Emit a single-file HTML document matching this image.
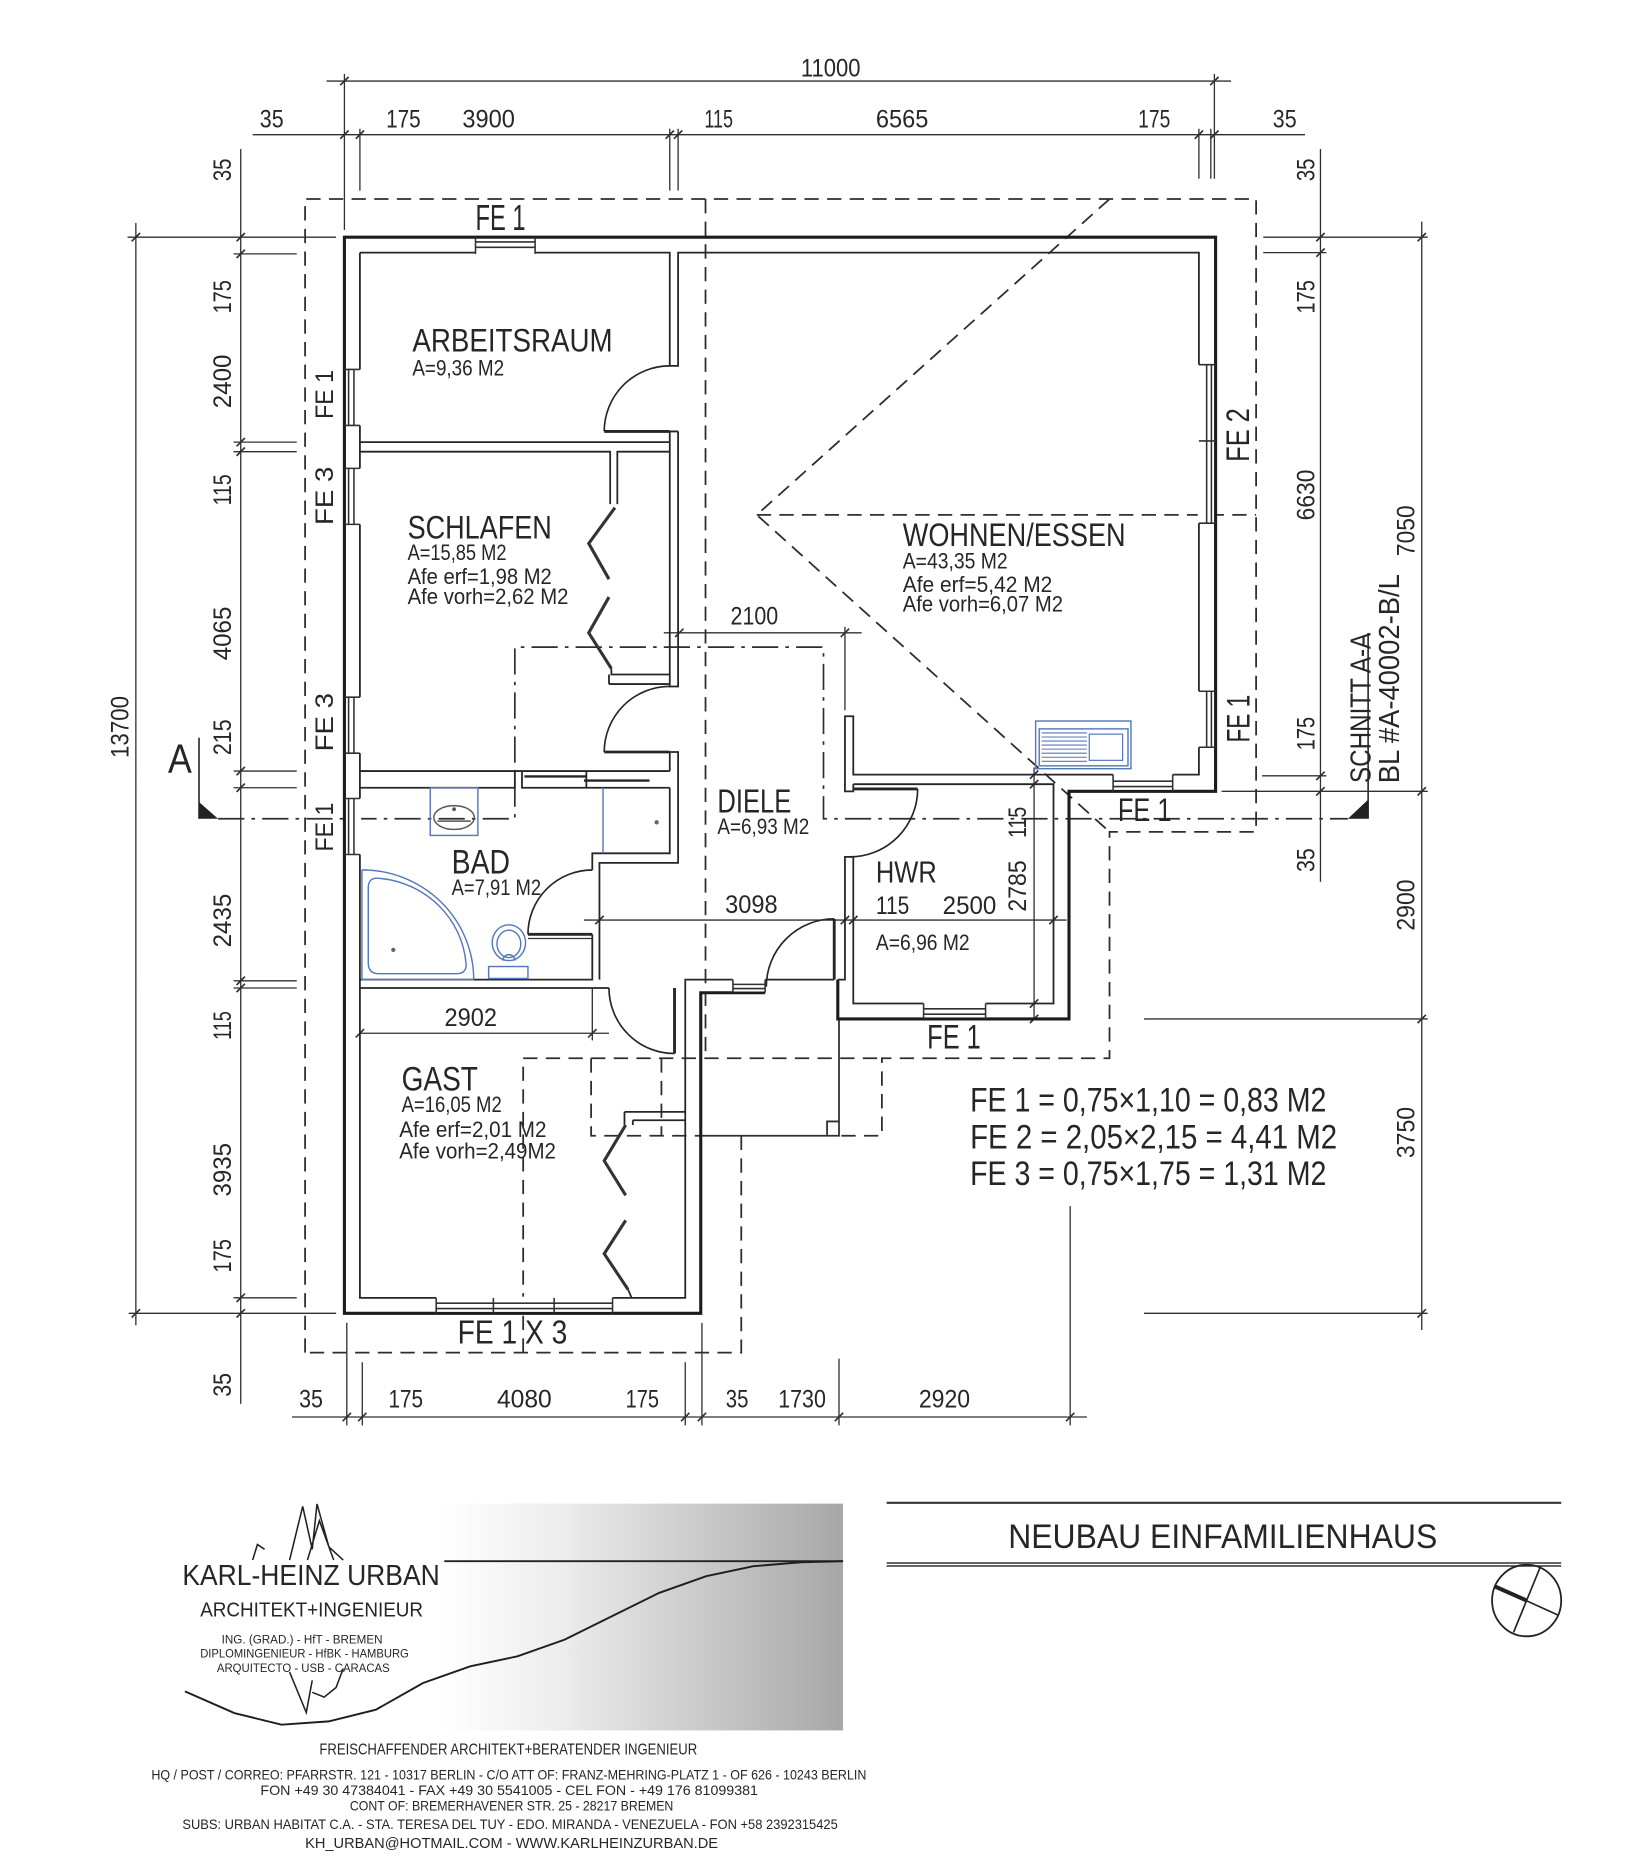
<!DOCTYPE html>
<html><head><meta charset="utf-8">
<style>
html,body{margin:0;padding:0;background:#fff}
svg{display:block}
.o{stroke:#1c1c1c;stroke-width:2.6;fill:none}
.i{stroke:#262626;stroke-width:1.5;fill:none}
.t{stroke:#303030;stroke-width:1.1;fill:none}
.hv{stroke:#262626;stroke-width:2.4;fill:none}
.z{stroke:#333;stroke-width:2.6;fill:none}
.da{stroke:#2e2e2e;stroke-width:1.5;fill:none;stroke-dasharray:12 7}
.dd{stroke:#2e2e2e;stroke-width:1.4;fill:none;stroke-dasharray:22 6 3 6}
.b{stroke:#5577bb;stroke-width:1.2;fill:none}
text{font-family:"Liberation Sans",sans-serif;fill:#262626}
</style></head>
<body>
<svg xmlns="http://www.w3.org/2000/svg" width="1647" height="1870" viewBox="0 0 1382 1569.1" preserveAspectRatio="none">
<defs>
<linearGradient id="g" x1="0" x2="1" y1="0" y2="0">
<stop offset="0" stop-color="#ffffff"/>
<stop offset="0.3" stop-color="#ececec"/>
<stop offset="1" stop-color="#a7a7a7"/>
</linearGradient>
</defs>
<rect x="0" y="0" width="1382" height="1570" fill="#fff"/>

<!-- roof dashed lines -->
<path class="da" d="M256,1135V167H1054V698H931V888H740V953H704 M622,953V1135H256 M439,1135V888H740 M592,167V888 M496,888V953H587 M555,888V953 M931,167L635,432L931,698 M635,432H1054"/>
<path class="t" d="M587,953H704V855 M694,953V941H704" style="stroke-width:1.5"/>

<!-- section line -->
<path class="dd" d="M183,687H432V543H691V687H1131"/>
<path class="t" d="M167,619V687 M1148,531V687" style="stroke-width:1.4"/>
<path d="M167,673L167,687L183,687Z" fill="#222"/>
<path d="M1148,671L1148,687L1131,687Z" fill="#222"/>

<!-- dimension lines -->
<path class="t" d="M274,68H1033 M289,62V193 M1019,62V150 M1016,108V150 M212,113H1095 M302,108V160 M562,108V160 M569,108V160 M1006,108V150"/>
<path class="t" d="M114,187V1112 M202,125V1178 M107,199H282 M196,213H249 M196,371H249 M196,379H249 M196,647H249 M196,661H249 M196,823H249 M196,829H249 M196,1089H249 M108,1102H282"/>
<path class="t" d="M1108,125V740 M1193,186V1116 M1060,199H1198 M1060,212H1113 M1059,651H1113 M1025,664H1198 M960,855H1198 M960,1102H1198"/>
<path class="t" d="M245,1189H912 M291,1110V1196 M304,1143V1196 M575,1143V1196 M589,1110V1196 M704,1140V1196 M898,1012V1196"/>
<path class="t" d="M557,531H723 M709,526V596 M490,772H895 M867.7,644V855 M302,867H511 M497,829V873"/>
<path class="t" style="stroke-width:1.4" d="M285.5,71.5l7,-7 M1015.5,71.5l7,-7 M285.5,116.5l7,-7 M298.5,116.5l7,-7 M558.5,116.5l7,-7 M565.5,116.5l7,-7 M1002.5,116.5l7,-7 M1015.5,116.5l7,-7
M198.5,202.5l7,-7 M198.5,216.5l7,-7 M198.5,374.5l7,-7 M198.5,382.5l7,-7 M198.5,650.5l7,-7 M198.5,664.5l7,-7 M198.5,826.5l7,-7 M198.5,832.5l7,-7 M198.5,1092.5l7,-7 M198.5,1105.5l7,-7
M110.5,202.5l7,-7 M110.5,1105.5l7,-7
M1104.5,202.5l7,-7 M1104.5,215.5l7,-7 M1104.5,654.5l7,-7 M1104.5,667.5l7,-7
M1189.5,202.5l7,-7 M1189.5,667.5l7,-7 M1189.5,858.5l7,-7 M1189.5,1105.5l7,-7
M287.5,1192.5l7,-7 M300.5,1192.5l7,-7 M571.5,1192.5l7,-7 M585.5,1192.5l7,-7 M700.5,1192.5l7,-7 M894.5,1192.5l7,-7
M566.5,534.5l7,-7 M705.5,534.5l7,-7 M499.5,775.5l7,-7 M705.5,775.5l7,-7 M712.5,775.5l7,-7 M880.5,775.5l7,-7 M864.2,653.5l7,-7 M864.2,661.5l7,-7 M864.2,845.5l7,-7 M864.2,858.5l7,-7 M298.5,870.5l7,-7 M493.5,870.5l7,-7"/>

<!-- walls -->
<path class="o" d="M642,833H588V1102H289V199H1020V664H897V855H703V822"/>
<path class="i" d="M302,212H562V307H569V212H1006V650H716V601H709V664H716V658
M716,658H884V842H716V719H709V822H703
M302,212V1089H575V822H615 M642,822H700
M302,371H562 M302,379H512V423 M518,423V379H562
M562,362H569 M562,362V576H569V362
M562,631H569V724H503V822
M562,631V647 M562,661V716H497V730 M497,784V822H302
M302,829H511
M302,647H562 M302,661H432V647 M438,647V661H562 M492,647V661
M513,561V566H562 M511,574H562 M511,566V574
M524,933H575 M531,940H575 M524,933V944 M531,940V944 M527,1082L530,1089"/>
<path class="hv" d="M440,651.5H492 M490,655H545" style="stroke-width:2"/>
<path class="z" d="M516,426L494,456L511,486 M511,501L494,531L513,561 M525,944L507,974L525,1003 M525,1024L507,1052L527,1082"/>

<!-- doors -->
<path class="hv" d="M507,362H562 M507,631H562 M443,784H497 M566,829V884 M700,771V822 M716,662H770"/>
<path class="t" d="M443,787.5H497"/>
<path class="i" style="stroke-width:1.4" d="M562,307A55,55 0 0 0 507,362 M562,576A55,55 0 0 0 507,631 M497,730A54,54 0 0 0 443,784 M511,829A55,55 0 0 0 566,884 M700,771A57,57 0 0 0 643,828 M770,662A57,57 0 0 1 713,719"/>

<!-- windows -->
<g fill="#fff" stroke="none">
<rect x="290.5" y="310" width="12.5" height="47"/><rect x="290.5" y="393" width="12.5" height="47"/>
<rect x="290.5" y="585" width="12.5" height="47"/><rect x="290.5" y="670" width="12.5" height="47"/>
<rect x="1005" y="306" width="13.7" height="133"/><rect x="1005" y="580" width="13.7" height="47"/>
<rect x="399" y="200.5" width="50" height="13.5"/>
<rect x="934" y="649" width="50" height="13.7"/>
<rect x="775" y="841" width="52" height="12.7"/>
<rect x="366" y="1088" width="148" height="12.7"/>
<rect x="615" y="821" width="27" height="11"/>
</g>
<path class="t" style="stroke-width:1.3" d="
M289,310H302 M289,357H302 M292.5,310V357 M297,310V357
M289,393H302 M289,440H302 M292.5,393V440 M297,393V440
M289,585H302 M289,632H302 M292.5,585V632 M297,585V632
M289,670H302 M289,717H302 M292.5,670V717 M297,670V717
M1006,306H1020 M1006,370H1020 M1006,439H1020 M1012.5,306V439 M1016.5,306V439
M1006,580H1020 M1006,627H1020 M1012.5,580V627 M1016.5,580V627
M399,199V213 M449,199V213 M399,203H449 M399,207.5H449
M934,650V664 M984,650V664 M934,655.5H984 M934,660H984
M775,842V855 M827,842V855 M775,846.5H827 M775,851H827
M366,1089V1102 M414,1089V1102 M465,1089V1102 M514,1089V1102 M366,1093.5H514 M366,1098H514
M615,822V833 M642,822V833 M615,826H642 M615,829.5H642"/>

<!-- fixtures -->
<rect class="b" x="361" y="661" width="40" height="40"/>
<ellipse cx="381" cy="686" rx="17" ry="10" fill="none" stroke="#555" stroke-width="1.2"/>
<path d="M367,689H395" stroke="#555" stroke-width="1.2"/>
<circle cx="381" cy="679" r="1.6" fill="#555"/>
<path class="b" d="M506,661V716"/>
<circle cx="551" cy="690" r="1.8" fill="#666"/>
<path class="b" d="M303.7,729.9A93.8,92.1 0 0 1 397.5,822 M303.7,729.9V822H397.5"/>
<path class="b" d="M309,745Q309,736 318,737A80,78 0 0 1 391,808Q392,817 383,817L318,817Q309,817 309,808Z"/>
<circle cx="330" cy="797" r="1.8" fill="#666"/>
<rect class="b" x="410" y="811" width="33" height="10"/>
<ellipse class="b" cx="427" cy="791" rx="14" ry="15"/>
<ellipse class="b" cx="427" cy="792" rx="10" ry="11.5"/>
<path class="b" d="M422,806A5,5 0 0 1 432,806"/>
<rect class="b" x="869" y="605" width="80" height="40"/>
<rect class="b" x="872" y="611.6" width="74.5" height="31"/>
<rect x="914" y="616" width="28" height="22" fill="#fff" stroke="#5577bb" stroke-width="1"/>
<path class="b" style="stroke-width:0.9" d="M874,615H912 M874,618.4H912 M874,621.8H912 M874,625.2H912 M874,628.6H912 M874,632H912 M874,635.4H912 M874,638.8H912"/>

<!-- dimension texts -->
<g font-size="21">
<text x="672" y="64" textLength="50" lengthAdjust="spacingAndGlyphs">11000</text>
<text x="218" y="107" textLength="20" lengthAdjust="spacingAndGlyphs">35</text>
<text x="324" y="107" textLength="29" lengthAdjust="spacingAndGlyphs">175</text>
<text x="388" y="107" textLength="44" lengthAdjust="spacingAndGlyphs">3900</text>
<text x="591" y="107" textLength="24" lengthAdjust="spacingAndGlyphs">115</text>
<text x="735" y="107" textLength="44" lengthAdjust="spacingAndGlyphs">6565</text>
<text x="955" y="107" textLength="27" lengthAdjust="spacingAndGlyphs">175</text>
<text x="1068" y="107" textLength="20" lengthAdjust="spacingAndGlyphs">35</text>
<text x="251" y="1181" textLength="20" lengthAdjust="spacingAndGlyphs">35</text>
<text x="326" y="1181" textLength="29" lengthAdjust="spacingAndGlyphs">175</text>
<text x="417" y="1181" textLength="46" lengthAdjust="spacingAndGlyphs">4080</text>
<text x="525" y="1181" textLength="28" lengthAdjust="spacingAndGlyphs">175</text>
<text x="609" y="1181" textLength="19" lengthAdjust="spacingAndGlyphs">35</text>
<text x="653" y="1181" textLength="40" lengthAdjust="spacingAndGlyphs">1730</text>
<text x="771" y="1181" textLength="43" lengthAdjust="spacingAndGlyphs">2920</text>
<text x="613" y="524" textLength="40" lengthAdjust="spacingAndGlyphs">2100</text>
<text x="608.5" y="766" textLength="44" lengthAdjust="spacingAndGlyphs">3098</text>
<text x="373" y="861" textLength="44" lengthAdjust="spacingAndGlyphs">2902</text>
<text x="735" y="767" textLength="28" lengthAdjust="spacingAndGlyphs">115</text>
<text x="791" y="767" textLength="45" lengthAdjust="spacingAndGlyphs">2500</text>
<!-- rotated left -->
<text x="184.5" y="142.5" transform="rotate(-90 194 142.5)" textLength="19" lengthAdjust="spacingAndGlyphs">35</text>
<text transform="rotate(-90 194 249)" x="180" y="249" textLength="28" lengthAdjust="spacingAndGlyphs">175</text>
<text transform="rotate(-90 194 320)" x="171.5" y="320" textLength="45" lengthAdjust="spacingAndGlyphs">2400</text>
<text transform="rotate(-90 194 411)" x="181" y="411" textLength="26" lengthAdjust="spacingAndGlyphs">115</text>
<text transform="rotate(-90 194 531.5)" x="171.5" y="531.5" textLength="45" lengthAdjust="spacingAndGlyphs">4065</text>
<text transform="rotate(-90 194 618.6)" x="179" y="618.6" textLength="30" lengthAdjust="spacingAndGlyphs">215</text>
<text transform="rotate(-90 194 772.4)" x="171.5" y="772.4" textLength="45" lengthAdjust="spacingAndGlyphs">2435</text>
<text transform="rotate(-90 194 860.5)" x="182" y="860.5" textLength="24" lengthAdjust="spacingAndGlyphs">115</text>
<text transform="rotate(-90 194 981.5)" x="171.5" y="981.5" textLength="45" lengthAdjust="spacingAndGlyphs">3935</text>
<text transform="rotate(-90 194 1053.7)" x="180" y="1053.7" textLength="28" lengthAdjust="spacingAndGlyphs">175</text>
<text transform="rotate(-90 194 1162)" x="184" y="1162" textLength="20" lengthAdjust="spacingAndGlyphs">35</text>
<text transform="rotate(-90 108 610)" x="82" y="610" textLength="52" lengthAdjust="spacingAndGlyphs">13700</text>
<!-- rotated right -->
<text transform="rotate(-90 1103 142.5)" x="1093.5" y="142.5" textLength="19" lengthAdjust="spacingAndGlyphs">35</text>
<text transform="rotate(-90 1103 249)" x="1089" y="249" textLength="28" lengthAdjust="spacingAndGlyphs">175</text>
<text transform="rotate(-90 1103 415.3)" x="1081.7" y="415.3" textLength="42.6" lengthAdjust="spacingAndGlyphs">6630</text>
<text transform="rotate(-90 1103 615.5)" x="1089" y="615.5" textLength="28" lengthAdjust="spacingAndGlyphs">175</text>
<text transform="rotate(-90 1103 721.7)" x="1093" y="721.7" textLength="20" lengthAdjust="spacingAndGlyphs">35</text>
<text transform="rotate(-90 1187 445.3)" x="1165.7" y="445.3" textLength="42.6" lengthAdjust="spacingAndGlyphs">7050</text>
<text transform="rotate(-90 1187 759.4)" x="1165.5" y="759.4" textLength="43" lengthAdjust="spacingAndGlyphs">2900</text>
<text transform="rotate(-90 1187 950.3)" x="1165.5" y="950.3" textLength="43" lengthAdjust="spacingAndGlyphs">3750</text>
<text transform="rotate(-90 861 743.4)" x="839.5" y="743.4" textLength="43" lengthAdjust="spacingAndGlyphs">2785</text>
<text transform="rotate(-90 861 690)" x="848" y="690" textLength="26" lengthAdjust="spacingAndGlyphs">115</text>
<!-- FE left -->
<text transform="rotate(-90 279.5 331)" x="259" y="331" textLength="41" lengthAdjust="spacingAndGlyphs">FE 1</text>
<text transform="rotate(-90 279.5 416)" x="255" y="416" textLength="49" lengthAdjust="spacingAndGlyphs">FE 3</text>
<text transform="rotate(-90 279.5 606)" x="255" y="606" textLength="49" lengthAdjust="spacingAndGlyphs">FE 3</text>
<text transform="rotate(-90 279.5 694)" x="259" y="694" textLength="41" lengthAdjust="spacingAndGlyphs">FE 1</text>
</g>
<text x="141" y="648" font-size="34" textLength="20" lengthAdjust="spacingAndGlyphs">A</text>

<g font-size="27">
<text transform="rotate(-90 1048 365)" x="1025.5" y="365" textLength="45" lengthAdjust="spacingAndGlyphs">FE 2</text>
<text transform="rotate(-90 1048.6 603)" x="1028.6" y="603" textLength="40" lengthAdjust="spacingAndGlyphs">FE 1</text>
<text x="399" y="193" font-size="30" textLength="42" lengthAdjust="spacingAndGlyphs">FE 1</text>
<text x="938" y="689" textLength="45" lengthAdjust="spacingAndGlyphs">FE 1</text>
<text x="778" y="880" font-size="29" textLength="45" lengthAdjust="spacingAndGlyphs">FE 1</text>
<text x="384" y="1127.5" font-size="28" textLength="92" lengthAdjust="spacingAndGlyphs">FE 1 X 3</text>
</g>
<g font-size="24">
<text transform="rotate(-90 1150 594)" x="1087" y="594" textLength="126" lengthAdjust="spacingAndGlyphs">SCHNITT A-A</text>
<text transform="rotate(-90 1174 569.5)" x="1086.25" y="569.5" textLength="175.5" lengthAdjust="spacingAndGlyphs">BL #A-40002-B/L</text>
</g>

<!-- room labels -->
<g font-size="27">
<text x="346" y="295" textLength="168" lengthAdjust="spacingAndGlyphs">ARBEITSRAUM</text>
<text x="342" y="452" textLength="121" lengthAdjust="spacingAndGlyphs">SCHLAFEN</text>
<text x="757.5" y="458" textLength="187" lengthAdjust="spacingAndGlyphs">WOHNEN/ESSEN</text>
<text x="602" y="681.6" font-size="28" textLength="62" lengthAdjust="spacingAndGlyphs">DIELE</text>
<text x="379" y="733" font-size="29" textLength="49" lengthAdjust="spacingAndGlyphs">BAD</text>
<text x="735" y="740.7" font-size="26" textLength="51" lengthAdjust="spacingAndGlyphs">HWR</text>
<text x="337" y="915" font-size="29" textLength="64" lengthAdjust="spacingAndGlyphs">GAST</text>
</g>
<g font-size="18.5">
<text x="346" y="315" textLength="77" lengthAdjust="spacingAndGlyphs">A=9,36 M2</text>
<text x="342" y="470" textLength="83" lengthAdjust="spacingAndGlyphs">A=15,85 M2</text>
<text x="342" y="490" textLength="121" lengthAdjust="spacingAndGlyphs">Afe erf=1,98 M2</text>
<text x="342" y="507" textLength="135" lengthAdjust="spacingAndGlyphs">Afe vorh=2,62 M2</text>
<text x="757.5" y="477" textLength="88" lengthAdjust="spacingAndGlyphs">A=43,35 M2</text>
<text x="757.5" y="496.6" textLength="125.5" lengthAdjust="spacingAndGlyphs">Afe erf=5,42 M2</text>
<text x="757.5" y="513" textLength="134.5" lengthAdjust="spacingAndGlyphs">Afe vorh=6,07 M2</text>
<text x="602" y="700" textLength="77" lengthAdjust="spacingAndGlyphs">A=6,93 M2</text>
<text x="379" y="751" textLength="75" lengthAdjust="spacingAndGlyphs">A=7,91 M2</text>
<text x="735" y="797" textLength="78.6" lengthAdjust="spacingAndGlyphs">A=6,96 M2</text>
<text x="337" y="933" textLength="84" lengthAdjust="spacingAndGlyphs">A=16,05 M2</text>
<text x="335" y="954" textLength="123.5" lengthAdjust="spacingAndGlyphs">Afe erf=2,01 M2</text>
<text x="335" y="972" textLength="131.5" lengthAdjust="spacingAndGlyphs">Afe vorh=2,49M2</text>
</g>

<!-- FE legend -->
<g font-size="29">
<text x="814" y="932.5" textLength="299" lengthAdjust="spacingAndGlyphs">FE 1 = 0,75×1,10 = 0,83 M2</text>
<text x="814" y="963.6" textLength="308" lengthAdjust="spacingAndGlyphs">FE 2 = 2,05×2,15 = 4,41 M2</text>
<text x="814" y="994.4" textLength="299" lengthAdjust="spacingAndGlyphs">FE 3 = 0,75×1,75 = 1,31 M2</text>
</g>

<!-- title block -->
<path d="M744,1261H1310" stroke="#333" stroke-width="1.8"/>
<path d="M744,1311.5H1310 M744,1314H1310" stroke="#333" stroke-width="1.3"/>
<text x="846" y="1299" font-size="29" textLength="360" lengthAdjust="spacingAndGlyphs">NEUBAU EINFAMILIENHAUS</text>
<ellipse cx="1281" cy="1343" rx="29" ry="30" fill="none" stroke="#222" stroke-width="1.5"/>
<path d="M1292.5,1314.7L1270,1369.8 M1254,1331L1307,1355" stroke="#222" stroke-width="1.4"/>
<path d="M1254,1331L1281,1343" stroke="#222" stroke-width="3.4"/>

<!-- logo -->
<rect x="372" y="1261.7" width="335.4" height="190.3" fill="url(#g)"/>
<path d="M372.8,1310H707.4" stroke="#222" stroke-width="1.6"/>
<polyline fill="none" stroke="#1e1e1e" stroke-width="1.6" points="155.2,1419.2 196.6,1437.4 236.2,1447.2 275.8,1444.4 315.4,1434.6 355,1412.2 394.6,1398.2 434.2,1389.8 473.8,1375.8 513.4,1356.2 553,1336.6 592.6,1322.6 632.2,1314.2 671.8,1310.9 707.4,1310"/>
<path fill="none" stroke="#222" stroke-width="1.3" d="M243,1309L254,1264L262,1300L266,1262L276,1298L288,1309 M258,1309L268,1276L280,1309 M212,1309L216,1296L222,1300 M243,1403L257,1437L262,1410 M262,1420L272,1424L282,1416L288,1400"/>
<text x="153" y="1330" font-size="24" textLength="216" lengthAdjust="spacingAndGlyphs">KARL-HEINZ URBAN</text>
<text x="168" y="1356.6" font-size="17" textLength="187" lengthAdjust="spacingAndGlyphs">ARCHITEKT+INGENIEUR</text>
<text x="186" y="1379" font-size="10" textLength="135" lengthAdjust="spacingAndGlyphs">ING. (GRAD.) - HfT - BREMEN</text>
<text x="168" y="1391" font-size="10" textLength="175" lengthAdjust="spacingAndGlyphs">DIPLOMINGENIEUR - HfBK - HAMBURG</text>
<text x="182" y="1403" font-size="10" textLength="145" lengthAdjust="spacingAndGlyphs">ARQUITECTO - USB - CARACAS</text>
<text x="268" y="1472" font-size="13" textLength="317" lengthAdjust="spacingAndGlyphs">FREISCHAFFENDER ARCHITEKT+BERATENDER INGENIEUR</text>
<text x="127" y="1493" font-size="11.5" textLength="600" lengthAdjust="spacingAndGlyphs">HQ / POST / CORREO: PFARRSTR. 121 - 10317 BERLIN - C/O ATT OF: FRANZ-MEHRING-PLATZ 1 - OF 626 - 10243 BERLIN</text>
<text x="218.5" y="1506" font-size="11.5" textLength="417.5" lengthAdjust="spacingAndGlyphs">FON +49 30 47384041 - FAX +49 30 5541005 - CEL FON - +49 176 81099381</text>
<text x="293.6" y="1519" font-size="11.5" textLength="271.4" lengthAdjust="spacingAndGlyphs">CONT OF: BREMERHAVENER STR. 25 - 28217 BREMEN</text>
<text x="153" y="1534.7" font-size="11.5" textLength="550" lengthAdjust="spacingAndGlyphs">SUBS: URBAN HABITAT C.A. - STA. TERESA DEL TUY - EDO. MIRANDA - VENEZUELA - FON +58 2392315425</text>
<text x="256" y="1550.7" font-size="12" textLength="346.5" lengthAdjust="spacingAndGlyphs">KH_URBAN@HOTMAIL.COM  -  WWW.KARLHEINZURBAN.DE</text>
</svg>
</body></html>
